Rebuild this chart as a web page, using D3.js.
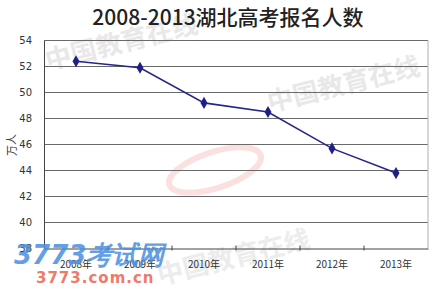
<!DOCTYPE html>
<html>
<head>
<meta charset="utf-8">
<script src="https://cdn.jsdelivr.net/npm/d3@7"></script>
<style>
  body { margin: 0; background: #fff; }
  svg { display: block; }
</style>
</head>
<body>
<div id="chart"></div>
<script>
// data
const years = ['2008年', '2009年', '2010年', '2011年', '2012年', '2013年'];
const applicants = [52.4, 51.9, 49.2, 48.5, 45.7, 43.8];
const yTicks = [38, 40, 42, 44, 46, 48, 50, 52, 54];

const width = 445, height = 300;
const m = {top: 40.5, right: 17, bottom: 51.5, left: 44};

const svg = d3.select('#chart').append('svg')
	.attr('width', width)
	.attr('height', height);

svg.append('rect').attr('width', width).attr('height', height).attr('fill', '#fff');

// watermarks (faint)
const wm = svg.append('g').attr('class', 'watermark');
wm.append('text')
	.attr('transform', 'translate(48,70) rotate(-14)')
	.style('font', 'bold 26px "Noto Sans CJK SC"')
	.style('fill', '#e8e8e8')
	.text('中国教育在线');
wm.append('text')
	.attr('transform', 'translate(270,112) rotate(-14)')
	.style('font', 'bold 26px "Noto Sans CJK SC"')
	.style('fill', '#e8e8e8')
	.text('中国教育在线');
wm.append('text')
	.attr('transform', 'translate(160,285) rotate(-14)')
	.style('font', 'bold 26px "Noto Sans CJK SC"')
	.style('fill', '#ececec')
	.text('中国教育在线');
wm.append('ellipse')
	.attr('cx', 215).attr('cy', 170).attr('rx', 48).attr('ry', 18)
	.attr('transform', 'rotate(-18,215,170)')
	.attr('fill', 'none').attr('stroke', '#fbe0e0').attr('stroke-width', 6);

const plot = svg.append('g')
	.attr('transform', 'translate(' + m.left + ',' + m.top + ')');

const w = width - m.left - m.right;
const h = height - m.top - m.bottom;

const x = d3.scaleBand().domain(years).range([0, w]);
const y = d3.scaleLinear().domain([38, 54]).range([h, 0]);

// gridlines
plot.append('g')
	.selectAll('line')
	.data(yTicks.slice(1))
	.join('line')
	.attr('x1', 0).attr('x2', w)
	.attr('y1', d => y(d)).attr('y2', d => y(d))
	.attr('stroke', '#6a6a6a')
	.attr('stroke-width', 1);

// right border
plot.append('line')
	.attr('x1', w).attr('x2', w).attr('y1', 0).attr('y2', h)
	.attr('stroke', '#b0b0b0');

// y axis
const yAxis = plot.append('g')
	.call(d3.axisLeft(y).tickValues(yTicks).tickSize(0).tickPadding(12));
yAxis.select('.domain').attr('stroke', '#444');
yAxis.selectAll('text')
	.style('font', '10px "DejaVu Sans"')
	.style('fill', '#333');

// x axis
const xAxis = plot.append('g')
	.attr('transform', 'translate(0,' + h + ')')
	.call(d3.axisBottom(x).tickSize(0).tickPadding(12));
xAxis.select('.domain').attr('stroke', '#444');
xAxis.selectAll('text')
	.style('font', '10px "Noto Sans CJK SC"')
	.style('fill', '#333');
// category boundary ticks
plot.append('g')
	.selectAll('line')
	.data(years.slice(1))
	.join('line')
	.attr('x1', d => x(d)).attr('x2', d => x(d))
	.attr('y1', h - 3).attr('y2', h + 2)
	.attr('stroke', '#444');

// line
const line = d3.line()
	.x((d, i) => x(years[i]) + x.bandwidth() / 2)
	.y(d => y(d));

plot.append('path')
	.datum(applicants)
	.attr('fill', 'none')
	.attr('stroke', '#26268a')
	.attr('stroke-width', 1.6)
	.attr('d', line);

plot.selectAll('.pt')
	.data(applicants)
	.join('path')
	.attr('class', 'pt')
	.attr('d', d3.symbol().type(d3.symbolDiamond).size(42))
	.attr('transform', (d, i) => 'translate(' + (x(years[i]) + x.bandwidth() / 2) + ',' + y(d) + ')')
	.attr('fill', '#1f1f86');

// y axis title
svg.append('text')
	.attr('transform', 'translate(16,145) rotate(-90)')
	.attr('text-anchor', 'middle')
	.style('font', '11px "Noto Sans CJK SC"')
	.style('fill', '#333')
	.text('万人');

// title
svg.append('text')
	.attr('x', 228).attr('y', 25)
	.attr('text-anchor', 'middle')
	.style('font', '500 21px "Noto Sans CJK SC"')
	.style('fill', '#222')
	.text('2008-2013湖北高考报名人数');

// logo watermark
svg.append('text')
	.attr('x', 14).attr('y', 264)
	.style('font', 'italic bold 26px "DejaVu Sans"')
	.style('fill', '#4a8ee0')
	.style('opacity', 0.85)
	.text('3773考试网');
svg.append('text')
	.attr('x', 36).attr('y', 283)
	.style('font', 'bold 15px "DejaVu Sans"')
	.style('fill', '#ee7a6a')
	.style('letter-spacing', '1px')
	.text('3773.com.cn');
</script>
</body>
</html>
